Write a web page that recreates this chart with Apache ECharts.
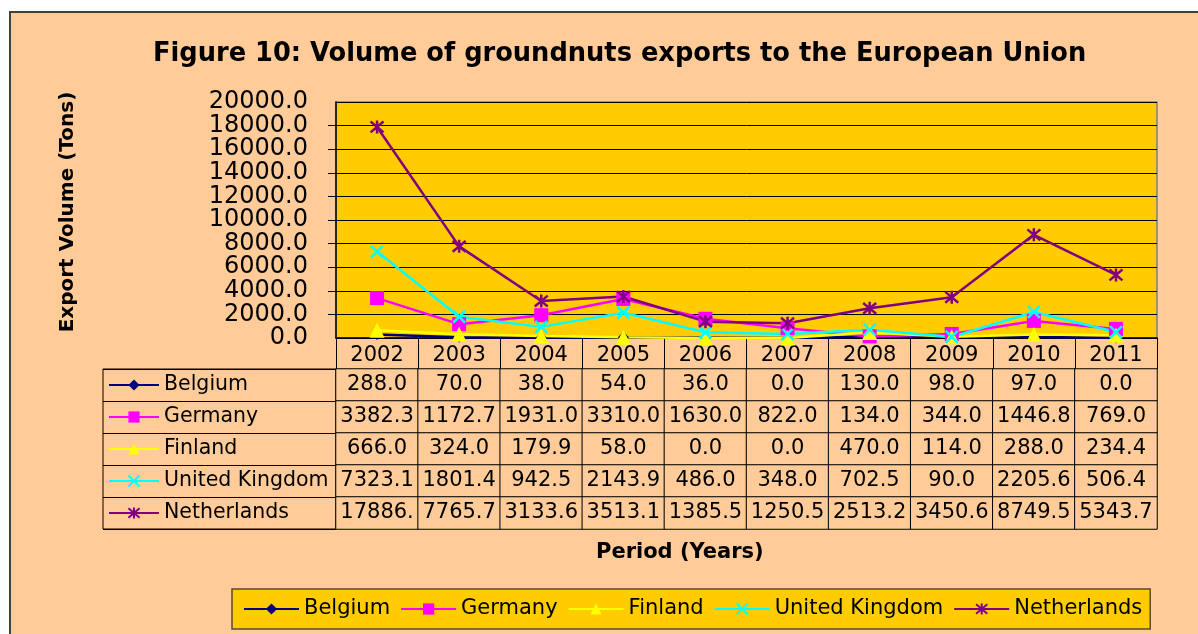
<!DOCTYPE html>
<html>
<head>
<meta charset="utf-8">
<script src="https://cdn.jsdelivr.net/npm/echarts@6/dist/echarts.min.js"></script>
<style>
  html, body { margin: 0; padding: 0; background: #fff; }
  #chart { width: 1198px; height: 634px; }
</style>
</head>
<body>
<div id="chart"></div>
<script>
var years = ['2002', '2003', '2004', '2005', '2006', '2007', '2008', '2009', '2010', '2011']
var countries = ['Belgium', 'Germany', 'Finland', 'United Kingdom', 'Netherlands']
var belgium = [288.0, 70.0, 38.0, 54.0, 36.0, 0.0, 130.0, 98.0, 97.0, 0.0]
var germany = [3382.3, 1172.7, 1931.0, 3310.0, 1630.0, 822.0, 134.0, 344.0, 1446.8, 769.0]
var finland = [666.0, 324.0, 179.9, 58.0, 0.0, 0.0, 470.0, 114.0, 288.0, 234.4]
var unitedKingdom = [7323.1, 1801.4, 942.5, 2143.9, 486.0, 348.0, 702.5, 90.0, 2205.6, 506.4]
var netherlands = [17886.0, 7765.7, 3133.6, 3513.1, 1385.5, 1250.5, 2513.2, 3450.6, 8749.5, 5343.7]
var yMin = 0, yMax = 20000, yStep = 2000

var seriesValues = [belgium, germany, finland, unitedKingdom, netherlands]
var colors = ['#000080', '#FF00FF', '#FFFF00', '#00FFFF', '#800080']
var symbols = [
  'diamond',
  'rect',
  'triangle',
  'path://M0,0L10,10M10,0L0,10',
  'path://M0,0L10,10M10,0L0,10M5,-1L5,11'
]
var symbolSizes = [11, 14, 15, 12, 13]

var FONT = 'DejaVu Sans'

// table cells: [yearIdx, countryIdx, value]
var tableData = []
seriesValues.forEach(function (arr, ci) {
  arr.forEach(function (v, yi) { tableData.push([yi, ci, v]) })
})

var lineSeries = countries.map(function (name, i) {
  var isPath = symbols[i].indexOf('path://') === 0
  return {
    name: name,
    type: 'line',
    xAxisIndex: 0,
    yAxisIndex: 0,
    data: seriesValues[i],
    symbol: symbols[i],
    symbolSize: symbolSizes[i],
    lineStyle: { color: colors[i], width: 2.5 },
    itemStyle: isPath
      ? { color: colors[i], borderColor: colors[i], borderWidth: 2.5 }
      : { color: colors[i] },
    emphasis: { disabled: true }
  }
})

var yLabel = {
  margin: 28,
  padding: [5, 0, 0, 0],
  fontFamily: FONT,
  fontSize: 24,
  color: '#000',
  formatter: function (v) { return v.toFixed(1) }
}

var chart = echarts.init(document.getElementById('chart'))
var option = {
  backgroundColor: '#ffffff',
  animation: false,
  graphic: {
    elements: [{
      type: 'rect',
      z: -10,
      silent: true,
      shape: { x: 10, y: 12, width: 1200, height: 640 },
      style: { fill: '#FFCC99', stroke: '#404040', lineWidth: 2 }
    }]
  },
  title: [{
    text: 'Figure 10: Volume of groundnuts exports to the European Union',
    left: 153,
    top: 41,
    padding: 0,
    textStyle: { fontFamily: FONT, fontWeight: 'bold', fontSize: 25.7, color: '#000' }
  }, {
    text: 'Period (Years)',
    left: 596,
    top: 542,
    padding: 0,
    textStyle: { fontFamily: FONT, fontWeight: 'bold', fontSize: 21, color: '#000' }
  }],
  legend: [{
    // legend box at the bottom
    left: 232,
    top: 589,
    orient: 'horizontal',
    selectedMode: false,
    data: countries,
    itemWidth: 55,
    itemHeight: 14,
    itemGap: 10,
    padding: [9, 8, 9, 11],
    backgroundColor: '#FFCC00',
    borderColor: '#5C4A28',
    borderWidth: 1.5,
    textStyle: { fontFamily: FONT, fontSize: 21, lineHeight: 22, color: '#000' }
  }, {
    // legend keys inside the data table
    left: 108,
    top: 374,
    orient: 'vertical',
    selectedMode: false,
    data: countries,
    itemWidth: 50,
    itemHeight: 14,
    itemGap: 10,
    padding: 0,
    textStyle: { fontFamily: FONT, fontSize: 20.5, lineHeight: 22, color: '#000' }
  }],
  grid: [{
    left: 336, top: 102, width: 821, height: 236,
    show: true, backgroundColor: '#FFCC00', borderColor: '#808080', borderWidth: 1.5
  }, {
    left: 336, top: 369, width: 821, height: 160
  }, {
    left: 103, top: 369, width: 233, height: 160,
    show: true, borderColor: '#000', borderWidth: 1
  }],
  xAxis: [{
    gridIndex: 0,
    type: 'category',
    data: years,
    boundaryGap: true,
    axisLine: { lineStyle: { color: '#000', width: 1.5 } },
    axisTick: { show: true, length: 31, interval: 0, lineStyle: { color: '#000', width: 1 } },
    axisLabel: { interval: 0, margin: 7, fontFamily: FONT, fontSize: 21, color: '#000' },
    splitLine: { show: false }
  }, {
    gridIndex: 1,
    type: 'category',
    data: years,
    show: false
  }, {
    gridIndex: 2,
    type: 'category',
    data: [''],
    show: false
  }],
  yAxis: [{
    // inner tick labels (the end labels come from the twin axis below)
    gridIndex: 0,
    type: 'value',
    name: 'Export Volume (Tons)',
    nameLocation: 'middle',
    nameRotate: 90,
    nameGap: 258,
    nameTextStyle: {
      fontFamily: FONT, fontWeight: 'bold', fontSize: 20, color: '#000',
      padding: [0, 0, 0, 16]
    },
    min: yMin,
    max: yMax,
    interval: yStep,
    axisLine: { show: true, lineStyle: { color: '#000', width: 1.5 } },
    axisTick: { show: true, length: 8, lineStyle: { color: '#000' } },
    axisLabel: Object.assign({ showMinLabel: false, showMaxLabel: false }, yLabel),
    splitLine: { show: true, lineStyle: { color: '#000', width: 1 } }
  }, {
    gridIndex: 0,
    type: 'value',
    position: 'left',
    min: yMin,
    max: yMax,
    interval: yMax - yMin,
    axisLine: { show: false },
    axisTick: { show: false },
    splitLine: { show: false },
    axisLabel: yLabel
  }, {
    gridIndex: 1,
    type: 'category',
    data: countries,
    inverse: true,
    show: false
  }, {
    gridIndex: 2,
    type: 'category',
    data: countries,
    inverse: true,
    axisLine: { show: false },
    axisTick: { show: false },
    axisLabel: { show: false },
    splitLine: { show: true, lineStyle: { color: '#000', width: 1 } }
  }],
  series: lineSeries.concat([{
    name: 'table',
    type: 'heatmap',
    xAxisIndex: 1,
    yAxisIndex: 2,
    data: tableData,
    itemStyle: { color: '#FFCC99', borderColor: '#000', borderWidth: 1 },
    label: {
      show: true,
      fontFamily: FONT,
      fontSize: 21,
      color: '#000',
      width: 80,
      overflow: 'truncate',
      ellipsis: '',
      formatter: function (p) { return p.value[2].toFixed(1) }
    },
    emphasis: { disabled: true }
  }])
}
chart.setOption(option)
</script>
</body>
</html>
